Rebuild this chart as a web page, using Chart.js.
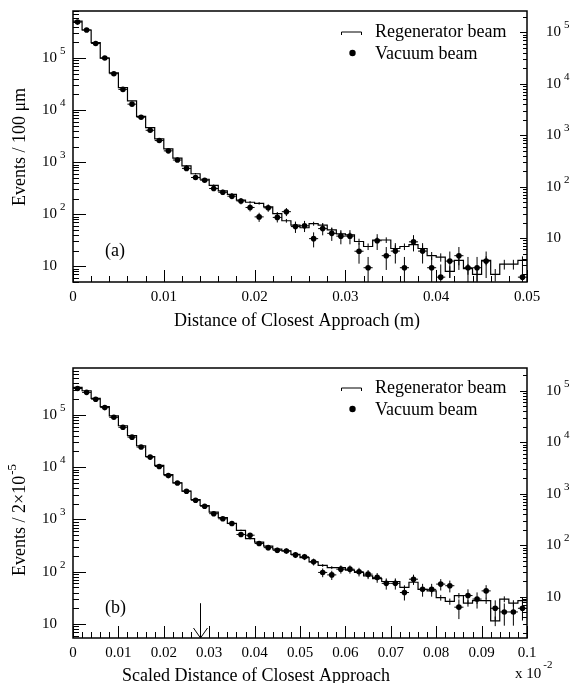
<!DOCTYPE html>
<html><head><meta charset="utf-8">
<script src="https://cdn.jsdelivr.net/npm/chart.js@4/dist/chart.umd.min.js"></script>
<style>
html,body{margin:0;padding:0;background:#fff;}
#wrap{position:relative;width:572px;height:683px;overflow:hidden;}
canvas{position:absolute;left:0;}
</style></head><body>
<div id="wrap">
<canvas id="c1" width="572" height="340" style="top:0"></canvas>
<canvas id="c2" width="572" height="343" style="top:340px"></canvas>
</div>
<script>
// ---------------- data ----------------
const binWidthA = 0.001;   // panel (a): bins of 100 um
const binWidthB = 0.002;   // panel (b): bins of 2x10^-5 (in x10^-2 units)

const regeneratorA = [510000,345000,197000,100000,52000,27000,15000,7600,4600,2800,
  1800,1200,850,600,470,360,282,240,187,170,
  162,139,103,75,62,55,66,62,50,42,
  40,30,24,32,32,22,24,26,22,16,
  15,8,13,9,7,13,7,11,11,13];
const vacuumA = [490000,345000,190000,100000,50000,25000,13000,7300,4100,2600,
  1650,1100,760,508,451,312,264,222,180,135,
  89,133,87,112,58,60,34,53,43,38,
  38,19.5,9.4,31,16,19.6,9.4,29.5,19.6,9.4,
  6.2,12.6,16,9.4,9.4,12.6,null,null,null,6.2];

const regeneratorB = [336000,290000,208000,144000,96000,62000,40000,25700,16000,10800,
  7200,5000,3500,2400,1850,1380,1080,840,620,430,
  370,310,270,250,215,186,155,132,120,120,
  107,97,83,74,65,65,50,63,46,43,
  32,27,35,25,28,28,11.5,30,25,28];
const vacuumB = [320000,270000,200000,138000,90000,58000,37600,24300,15600,10300,
  6900,5000,3470,2330,1790,1290,1030,835,517,500,
  346,289,257,250,210,193,155,97,87,112,
  112,100,90,78,60,60,40,72,46,46,
  58,54,21,35,30,43,20,17,17,20];

const xTickLabelsA = ['0','0.01','0.02','0.03','0.04','0.05'];
const xTickLabelsB = ['0','0.01','0.02','0.03','0.04','0.05','0.06','0.07','0.08','0.09','0.1'];
const yDecadeExponents = [1,2,3,4,5];
const arrowXB = 0.028;     // arrow marker in panel (b)
const arrowTopB = 25;

// ---------------- helpers ----------------
const FONT = '"Liberation Serif","Times New Roman",serif';
const VAC_ERR_K = 3.5, REG_ERR_K = 0.5;

function histData(vals, bw) {
  const d = vals.map((v, i) => ({x: i * bw, y: v}));
  d.push({x: vals.length * bw, y: vals[vals.length - 1]});
  return d;
}
function pointData(vals, bw) {
  return vals.map((v, i) => ({x: (i + 0.5) * bw, y: v}));
}

const hepPlugin = {
  id: 'hep',
  afterDatasetsDraw(chart) {
    const cfg = chart.options.plugins.hep;
    const ctx = chart.ctx;
    const ca = chart.chartArea;
    const xs = chart.scales.x, ys = chart.scales.y, y2 = chart.scales.y2;
    ctx.save();
    // error bars (clipped)
    ctx.save();
    ctx.beginPath(); ctx.rect(ca.left, ca.top, ca.right - ca.left, ca.bottom - ca.top); ctx.clip();
    ctx.strokeStyle = '#000'; ctx.lineWidth = 1;
    const drawErr = (vals, k, horiz) => {
      vals.forEach((v, i) => {
        if (v == null) return;
        const xc = (i + 0.5) * cfg.bw;
        const e = Math.sqrt(k * v);
        const lo = Math.max(v - e, ys.min * 0.5);
        const px = xs.getPixelForValue(xc);
        ctx.beginPath();
        ctx.moveTo(px, ys.getPixelForValue(lo));
        ctx.lineTo(px, ys.getPixelForValue(v + e));
        if (horiz) {
          const py = ys.getPixelForValue(v);
          ctx.moveTo(xs.getPixelForValue(i * cfg.bw), py);
          ctx.lineTo(xs.getPixelForValue((i + 1) * cfg.bw), py);
        }
        ctx.stroke();
      });
    };
    drawErr(cfg.reg, REG_ERR_K, false);
    drawErr(cfg.vac, VAC_ERR_K, true);
    ctx.restore();

    // frame
    ctx.strokeStyle = '#000'; ctx.lineWidth = 1.5;
    ctx.strokeRect(ca.left, ca.top, ca.right - ca.left, ca.bottom - ca.top);
    ctx.lineWidth = 1;
    // x ticks (inward from bottom)
    const nMinor = Math.round((xs.max - xs.min) / cfg.xMinorStep);
    ctx.beginPath();
    for (let i = 0; i <= nMinor; i++) {
      const v = xs.min + i * cfg.xMinorStep;
      const px = Math.round(xs.getPixelForValue(v)) + 0.5;
      const major = i % 5 === 0;
      ctx.moveTo(px, ca.bottom);
      ctx.lineTo(px, ca.bottom - (major ? 12 : 6));
    }
    ctx.stroke();
    // log ticks on left and right
    const logTicks = (scale, xEdge, dir, majLen, minLen) => {
      ctx.beginPath();
      const e0 = Math.floor(Math.log10(scale.min)), e1 = Math.ceil(Math.log10(scale.max));
      for (let e = e0; e <= e1; e++) {
        for (let d = 1; d <= 9; d++) {
          const v = d * Math.pow(10, e);
          if (v < scale.min || v > scale.max) continue;
          const py = Math.round(scale.getPixelForValue(v)) + 0.5;
          ctx.moveTo(xEdge, py);
          ctx.lineTo(xEdge + dir * (d === 1 ? majLen : minLen), py);
        }
      }
      ctx.stroke();
    };
    logTicks(ys, ca.left, 1, 13, 6);
    logTicks(y2, ca.right, -1, 7, 4);

    // labels
    ctx.fillStyle = '#000';
    const decLabel = (x, y, exp) => {
      ctx.font = `15px ${FONT}`; ctx.textAlign = 'left'; ctx.textBaseline = 'middle';
      ctx.fillText('10', x, y);
      if (exp !== 1) {
        const w = ctx.measureText('10').width;
        ctx.font = `11px ${FONT}`;
        ctx.fillText(String(exp), x + w + 3, y - 7);
      }
    };
    yDecadeExponents.forEach(e => {
      decLabel(42, ys.getPixelForValue(Math.pow(10, e)), e);
      decLabel(546, y2.getPixelForValue(Math.pow(10, e)), e);
    });
    ctx.font = `15px ${FONT}`; ctx.textAlign = 'center'; ctx.textBaseline = 'middle';
    cfg.xLabels.forEach((t, i) => {
      ctx.fillText(t, xs.getPixelForValue(i * 0.01), ca.bottom + 15);
    });
    // x title
    ctx.font = `18px ${FONT}`;
    ctx.fillText(cfg.xTitle, cfg.xTitleX, ca.bottom + cfg.xTitleDy);
    // y title (rotated)
    ctx.save();
    ctx.translate(20, cfg.yTitleY);
    ctx.rotate(-Math.PI / 2);
    ctx.font = `18px ${FONT}`;
    const mainW = ctx.measureText(cfg.yTitle).width;
    let supW = 0;
    if (cfg.yTitleSup) { ctx.font = `13px ${FONT}`; supW = ctx.measureText(cfg.yTitleSup).width + 1; }
    const total = mainW + supW;
    ctx.font = `18px ${FONT}`; ctx.textAlign = 'left'; ctx.textBaseline = 'middle';
    ctx.fillText(cfg.yTitle, -total / 2, 0);
    if (cfg.yTitleSup) { ctx.font = `13px ${FONT}`; ctx.fillText(cfg.yTitleSup, -total / 2 + mainW + 1, -7); }
    ctx.restore();
    // panel label
    ctx.font = `18px ${FONT}`; ctx.textAlign = 'left'; ctx.textBaseline = 'middle';
    ctx.fillText(cfg.panel, 105, ca.top + cfg.panelDy);
    // legend
    const ly = ca.top + cfg.legendDy;
    ctx.fillText('Regenerator beam', 375, ly);
    ctx.fillText('Vacuum beam', 375, ly + 22);
    ctx.beginPath();
    ctx.moveTo(341.5, ly + 3); ctx.lineTo(341.5, ly); ctx.lineTo(361.5, ly); ctx.lineTo(361.5, ly + 3);
    ctx.stroke();
    ctx.beginPath(); ctx.arc(352.5, ly + 21, 3.2, 0, Math.PI * 2); ctx.fill();
    // extras
    if (cfg.xExp) {
      ctx.font = `15px ${FONT}`; ctx.textAlign = 'left';
      ctx.fillText('x 10', 515, ca.bottom + 36);
      const w = ctx.measureText('x 10').width;
      ctx.font = `11px ${FONT}`;
      ctx.fillText('-2', 515 + w + 2, ca.bottom + 27);
    }
    if (cfg.arrowX != null) {
      const ax = Math.round(xs.getPixelForValue(cfg.arrowX)) + 0.5;
      const ay0 = ys.getPixelForValue(cfg.arrowTop);
      ctx.beginPath();
      ctx.moveTo(ax, ay0); ctx.lineTo(ax, ca.bottom);
      ctx.moveTo(ax - 7, ca.bottom - 10); ctx.lineTo(ax, ca.bottom); ctx.lineTo(ax + 7, ca.bottom - 10);
      ctx.stroke();
    }
    ctx.restore();
  }
};

function makeChart(id, o) {
  return new Chart(document.getElementById(id), {
    type: 'scatter',
    data: {
      datasets: [
        {label: 'Regenerator beam', data: histData(o.reg, o.bw), showLine: true, stepped: 'before',
         borderColor: '#000', borderWidth: 1.2, pointRadius: 0, fill: false},
        {label: 'Vacuum beam', data: pointData(o.vac, o.bw), showLine: false,
         pointRadius: 2.8, pointBackgroundColor: '#000', pointBorderColor: '#000', pointBorderWidth: 0}
      ]
    },
    options: {
      responsive: false, animation: false, devicePixelRatio: 1,
      layout: {padding: o.padding},
      scales: {
        x: {type: 'linear', min: 0, max: o.xMax, display: false},
        y: {type: 'logarithmic', min: o.yMin, max: o.yMax, display: false},
        y2: {type: 'logarithmic', position: 'right', min: o.y2Min, max: o.y2Max, display: false}
      },
      plugins: {
        legend: {display: false}, tooltip: {enabled: false},
        hep: o
      }
    },
    plugins: [hepPlugin]
  });
}

makeChart('c1', {
  reg: regeneratorA, vac: vacuumA, bw: binWidthA, xMax: 0.05, xMinorStep: 0.002,
  yMin: 5, yMax: 8e5, y2Min: 1.4, y2Max: 2.6e5,
  padding: {left: 73, right: 45, top: 11, bottom: 58},
  xLabels: xTickLabelsA, xTitle: 'Distance of Closest Approach (m)', xTitleX: 297, xTitleDy: 39,
  yTitle: 'Events / 100 \u03bcm', yTitleSup: null, yTitleY: 147,
  panel: '(a)', panelDy: 240, legendDy: 21, xExp: false, arrowX: null
});
makeChart('c2', {
  reg: regeneratorB, vac: vacuumB, bw: binWidthB, xMax: 0.1, xMinorStep: 0.002,
  yMin: 5.4, yMax: 7.9e5, y2Min: 1.6, y2Max: 2.75e5,
  padding: {left: 73, right: 45, top: 28, bottom: 45},
  xLabels: xTickLabelsB, xTitle: 'Scaled Distance of Closest Approach', xTitleX: 256, xTitleDy: 38,
  yTitle: 'Events / 2\u00d710', yTitleSup: '-5', yTitleY: 180,
  panel: '(b)', panelDy: 240, legendDy: 20, xExp: true, arrowX: arrowXB, arrowTop: arrowTopB
});
</script>
</body></html>
